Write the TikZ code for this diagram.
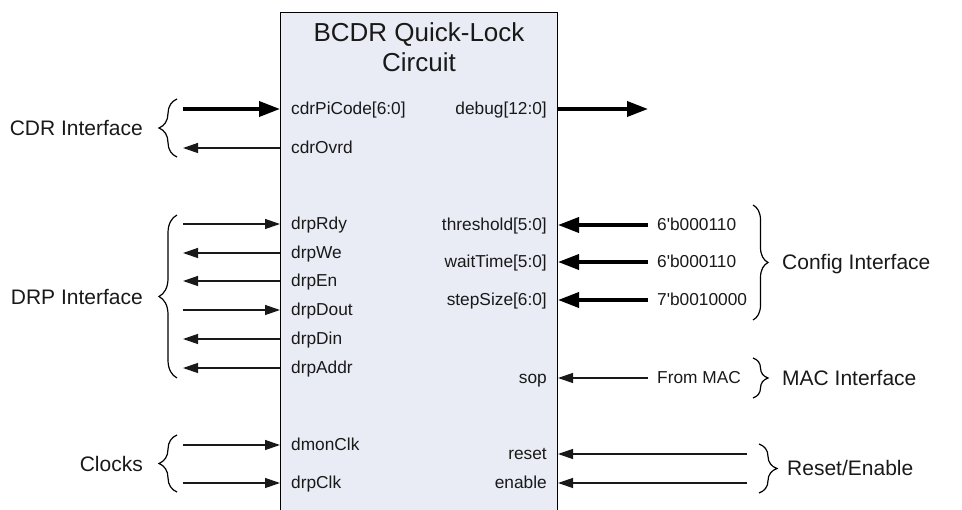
\documentclass[tikz,border=0pt]{standalone}
\usepackage{fontspec}
\setmainfont{Liberation Sans}[Ligatures=TeXOff]
\usetikzlibrary{arrows.meta,decorations.pathreplacing}
\definecolor{boxfill}{RGB}{233,236,245}
\definecolor{wire}{RGB}{25,25,25}
\definecolor{ink}{RGB}{25,25,25}
\tikzset{
  pinL/.style={anchor=west,inner xsep=0pt,inner ysep=0pt,text height=12pt,text depth=0pt,text=ink,font=\fontsize{17.3}{20}\selectfont},
  pinR/.style={pinL,anchor=east},
  grpL/.style={anchor=east,inner xsep=0pt,inner ysep=0pt,text height=15pt,text depth=0pt,text=ink,font=\fontsize{21}{25}\selectfont},
  grpR/.style={grpL,anchor=west},
  busarr/.style={line width=3.6pt,black,-{Triangle[length=21pt,width=15pt]}},
  sigarr/.style={line width=1.3pt,wire,-{Triangle[length=15pt,width=10pt]}},
  brL/.style={decorate,decoration={brace,amplitude=18pt},line width=1.2pt},
  brR/.style={decorate,decoration={brace,amplitude=15pt},line width=1.2pt},
}
\begin{document}
\begin{tikzpicture}[x=1pt,y=-1pt]
\useasboundingbox (0,0) rectangle (962,510);
% main block
\node[draw=black,line width=1pt,fill=boxfill,anchor=north west,minimum width=277pt,minimum height=520pt,inner sep=0pt] (blk) at (280,12) {};
\node[align=center,text=ink,font=\fontsize{26}{30}\selectfont,inner sep=0pt] (title) at (419,47) {BCDR Quick-Lock\\Circuit};
% left pins
\node[pinL] (cdrPiCode) at (291,109) {cdrPiCode[6:0]};
\node[pinL] (cdrOvrd)   at (291,148) {cdrOvrd};
\node[pinL] (drpRdy)    at (291,224) {drpRdy};
\node[pinL] (drpWe)     at (291,253) {drpWe};
\node[pinL] (drpEn)     at (291,281) {drpEn};
\node[pinL] (drpDout)   at (291,310) {drpDout};
\node[pinL] (drpDin)    at (291,339) {drpDin};
\node[pinL] (drpAddr)   at (291,368) {drpAddr};
\node[pinL] (dmonClk)   at (291,445) {dmonClk};
\node[pinL] (drpClk)    at (291,483) {drpClk};
% right pins
\node[pinR] (debug)     at (547,109) {debug[12:0]};
\node[pinR] (threshold) at (547,225) {threshold[5:0]};
\node[pinR] (waitTime)  at (547,262) {waitTime[5:0]};
\node[pinR] (stepSize)  at (547,300) {stepSize[6:0]};
\node[pinR] (sop)       at (547,378) {sop};
\node[pinR] (reset)     at (547,454) {reset};
\node[pinR] (enable)    at (547,483) {enable};
% outer ends
\coordinate (cdrPiCodeE) at (183,109);
\coordinate (cdrOvrdE)   at (183,148);
\coordinate (drpRdyE)    at (183,224);
\coordinate (drpWeE)     at (183,253);
\coordinate (drpEnE)     at (183,281);
\coordinate (drpDoutE)   at (183,310);
\coordinate (drpDinE)    at (183,339);
\coordinate (drpAddrE)   at (183,368);
\coordinate (dmonClkE)   at (183,445);
\coordinate (drpClkE)    at (183,483);
\coordinate (debugE)     at (648,109);
\node[pinL] (thrV)  at (657,225) {6'b000110};
\node[pinL] (waitV) at (657,262) {6'b000110};
\node[pinL] (stepV) at (657,300) {7'b0010000};
\node[pinL] (fromMAC) at (657,378) {From MAC};
\coordinate (resetE)  at (747,454);
\coordinate (enableE) at (747,483);
% left connectors
\draw[busarr] (cdrPiCodeE) -- (cdrPiCodeE -| blk.west);
\draw[sigarr] (cdrOvrdE -| blk.west) -- (cdrOvrdE);
\draw[sigarr] (drpRdyE) -- (drpRdyE -| blk.west);
\draw[sigarr] (drpWeE -| blk.west) -- (drpWeE);
\draw[sigarr] (drpEnE -| blk.west) -- (drpEnE);
\draw[sigarr] (drpDoutE) -- (drpDoutE -| blk.west);
\draw[sigarr] (drpDinE -| blk.west) -- (drpDinE);
\draw[sigarr] (drpAddrE -| blk.west) -- (drpAddrE);
\draw[sigarr] (dmonClkE) -- (dmonClkE -| blk.west);
\draw[sigarr] (drpClkE) -- (drpClkE -| blk.west);
% right connectors
\draw[busarr] (debugE -| blk.east) -- (debugE);
\draw[busarr,shorten <=9pt] (thrV.west) -- (thrV.west -| blk.east);
\draw[busarr,shorten <=9pt] (waitV.west) -- (waitV.west -| blk.east);
\draw[busarr,shorten <=9pt] (stepV.west) -- (stepV.west -| blk.east);
\draw[sigarr,shorten <=9pt] (fromMAC.west) -- (fromMAC.west -| blk.east);
\draw[sigarr] (resetE) -- (resetE -| blk.east);
\draw[sigarr] (enableE) -- (enableE -| blk.east);
% braces and group labels
\coordinate (b1a) at (177,157); \coordinate (b1b) at (177,99);
\draw[brL] (b1a) -- (b1b);
\node[grpL] (cdrIf) at (143,128) {CDR Interface};
\coordinate (b2a) at (177,378); \coordinate (b2b) at (177,215);
\draw[brL] (b2a) -- (b2b);
\node[grpL] (drpIf) at (143,297) {DRP Interface};
\coordinate (b3a) at (177,492); \coordinate (b3b) at (177,435);
\draw[brL] (b3a) -- (b3b);
\node[grpL] (clkIf) at (143,464) {Clocks};
\coordinate (b4a) at (753,205); \coordinate (b4b) at (753,320);
\draw[brR] (b4a) -- (b4b);
\node[grpR] (cfgIf) at (782,262) {Config Interface};
\coordinate (b5a) at (753,358); \coordinate (b5b) at (753,398);
\draw[brR] (b5a) -- (b5b);
\node[grpR] (macIf) at (782,378) {MAC Interface};
\coordinate (b6a) at (759,444); \coordinate (b6b) at (759,493);
\draw[brL] (b6a) -- (b6b);
\node[grpR] (rstIf) at (787,468) {Reset/Enable};
\end{tikzpicture}
\end{document}
